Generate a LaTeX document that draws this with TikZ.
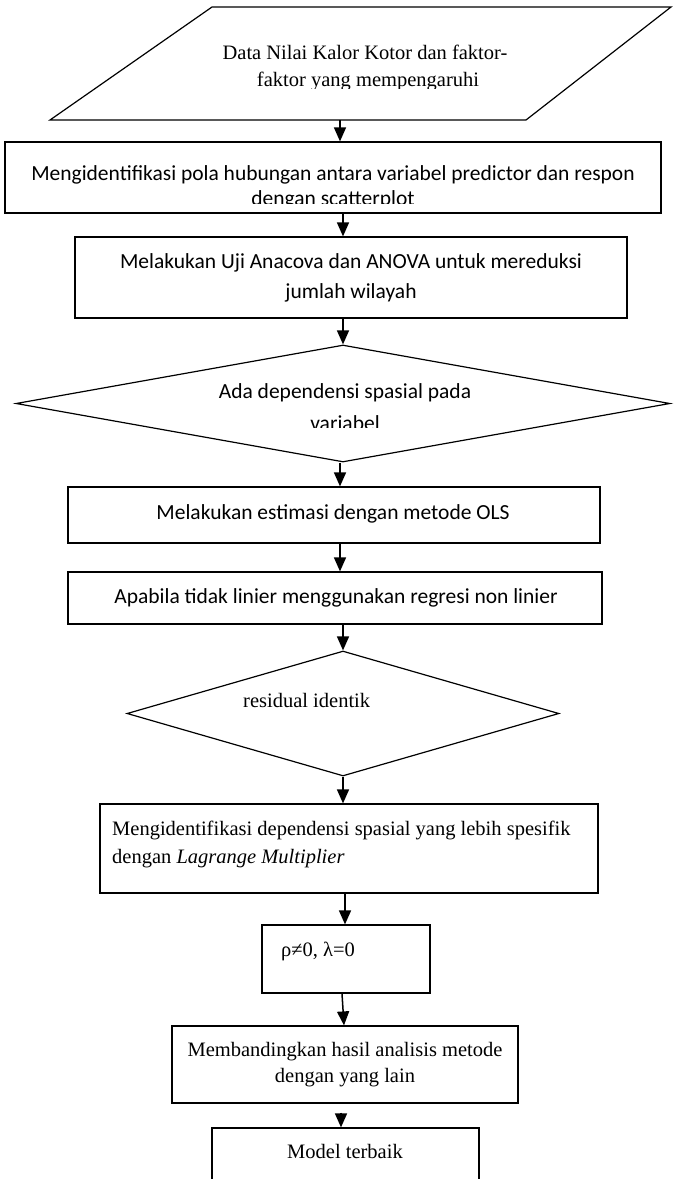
\documentclass[tikz,border=0pt]{standalone}
\usepackage{fontspec}
\setmainfont{Liberation Serif}
\newfontfamily\calfont{Carlito}
\usetikzlibrary{arrows.meta,shapes.geometric}
\begin{document}
\begin{tikzpicture}[x=1pt,y=-1pt,
  box/.style={draw,line width=1.2pt,inner sep=0pt,rectangle},
  dia/.style={draw,line width=1.2pt,inner sep=0pt,diamond},
  arr/.style={line width=1.5pt,-{Triangle[length=14pt,width=12pt]}},
  sf/.style={font=\calfont\fontsize{21.5}{26}\selectfont,inner sep=0pt},
  rm/.style={font=\fontsize{20.5}{24}\selectfont,inner sep=0pt},
]
\useasboundingbox (0,0) rectangle (674,1179);
\clip (0,0) rectangle (674,1179);

% column coordinates
\coordinate (k340) at (340,0);
\coordinate (k341) at (341,0);
\coordinate (k342) at (342,0);
\coordinate (k343) at (343,0);
\coordinate (k344) at (344,0);
\coordinate (k345) at (345,0);

% input parallelogram
\draw[line width=1.2pt] (212,7) -- (671,7) -- (526,120) -- (50,120) -- cycle;
\coordinate (pb) at (340,120);
\node[rm,anchor=base] (t0a) at (365,59) {Data Nilai Kalor Kotor dan faktor-};
\begin{scope}
\clip (0,0) rectangle (674,88);
\node[rm,anchor=base] (t0b) at (368,86) {faktor yang mempengaruhi};
\end{scope}

% boxes
\node[box,minimum width=656pt,minimum height=71pt] (r1) at (333,177.5) {};
\node[box,minimum width=552pt,minimum height=81pt] (r2) at (351,277.5) {};
\node[dia,minimum width=654pt,minimum height=117pt] (d1) at (343,403.5) {};
\node[box,minimum width=532pt,minimum height=56pt] (r3) at (334,515) {};
\node[box,minimum width=534pt,minimum height=52pt] (r4) at (335,598) {};
\node[dia,minimum width=432pt,minimum height=125pt] (d2) at (343,713.5) {};
\node[box,minimum width=498pt,minimum height=89pt] (r5) at (349,848.5) {};
\node[box,minimum width=168pt,minimum height=68pt] (r6) at (346,959) {};
\node[box,minimum width=346pt,minimum height=77pt] (r7) at (345,1064.5) {};
\node[box,minimum width=267pt,minimum height=102pt] (r8) at (345.5,1179) {};

% texts
\node[sf,anchor=base] (t1a) at (333,180) {Mengidentifikasi pola hubungan antara variabel predictor dan respon};
\begin{scope}
\clip (0,0) rectangle (674,203);
\node[sf,anchor=base] (t1b) at (333,205) {dengan scatterplot};
\end{scope}
\node[sf,anchor=base] (t2a) at (351,268) {Melakukan Uji Anacova dan ANOVA untuk mereduksi};
\node[sf,anchor=base] (t2b) at (351,298) {jumlah wilayah};
\node[sf,anchor=base] (t3a) at (345,398) {Ada dependensi spasial pada};
\begin{scope}
\clip (0,0) rectangle (674,427);
\node[sf,anchor=base] (t3b) at (345,430) {variabel};
\end{scope}
\node[sf,anchor=base] (t4) at (333,519) {Melakukan estimasi dengan metode OLS};
\node[sf,anchor=base] (t5) at (336,603) {Apabila tidak linier menggunakan regresi non linier};
\node[rm,anchor=base west] (t6) at (243,707) {residual identik};
\node[rm,anchor=base west] (t7a) at (112,835) {Mengidentifikasi dependensi spasial yang lebih spesifik};
\node[rm,anchor=base west] (t7b) at (112,863) {dengan \textit{Lagrange Multiplier}};
\node[rm,anchor=base west] (t8) at (281,956) {ρ≠0, λ=0};
\node[rm,anchor=base] (t9a) at (345,1056) {Membandingkan hasil analisis metode};
\node[rm,anchor=base] (t9b) at (345,1082) {dengan yang lain};
\node[rm,anchor=base] (t10) at (345,1158) {Model terbaik};

% connectors
\draw[arr] (pb) -- (r1.north -| pb);
\draw[arr] (r1.south -| k343) -- (r2.north -| k343);
\draw[arr] (r2.south -| d1.north) -- (d1.north);
\draw[arr] (d1.south -| k340) -- (r3.north -| k340);
\draw[arr] (r3.south -| k340) -- (r4.north -| k340);
\draw[arr] (r4.south -| d2.north) -- (d2.north);
\draw[arr] (d2.south) -- (r5.north -| d2.south);
\draw[arr] (r5.south -| k345) -- (r6.north -| k345);
\draw[arr] (r6.south -| k342) -- (r7.north -| k344);
\draw[arr,shorten <=9pt] (r7.south -| k341) -- (r8.north -| k341);
\end{tikzpicture}
\end{document}
